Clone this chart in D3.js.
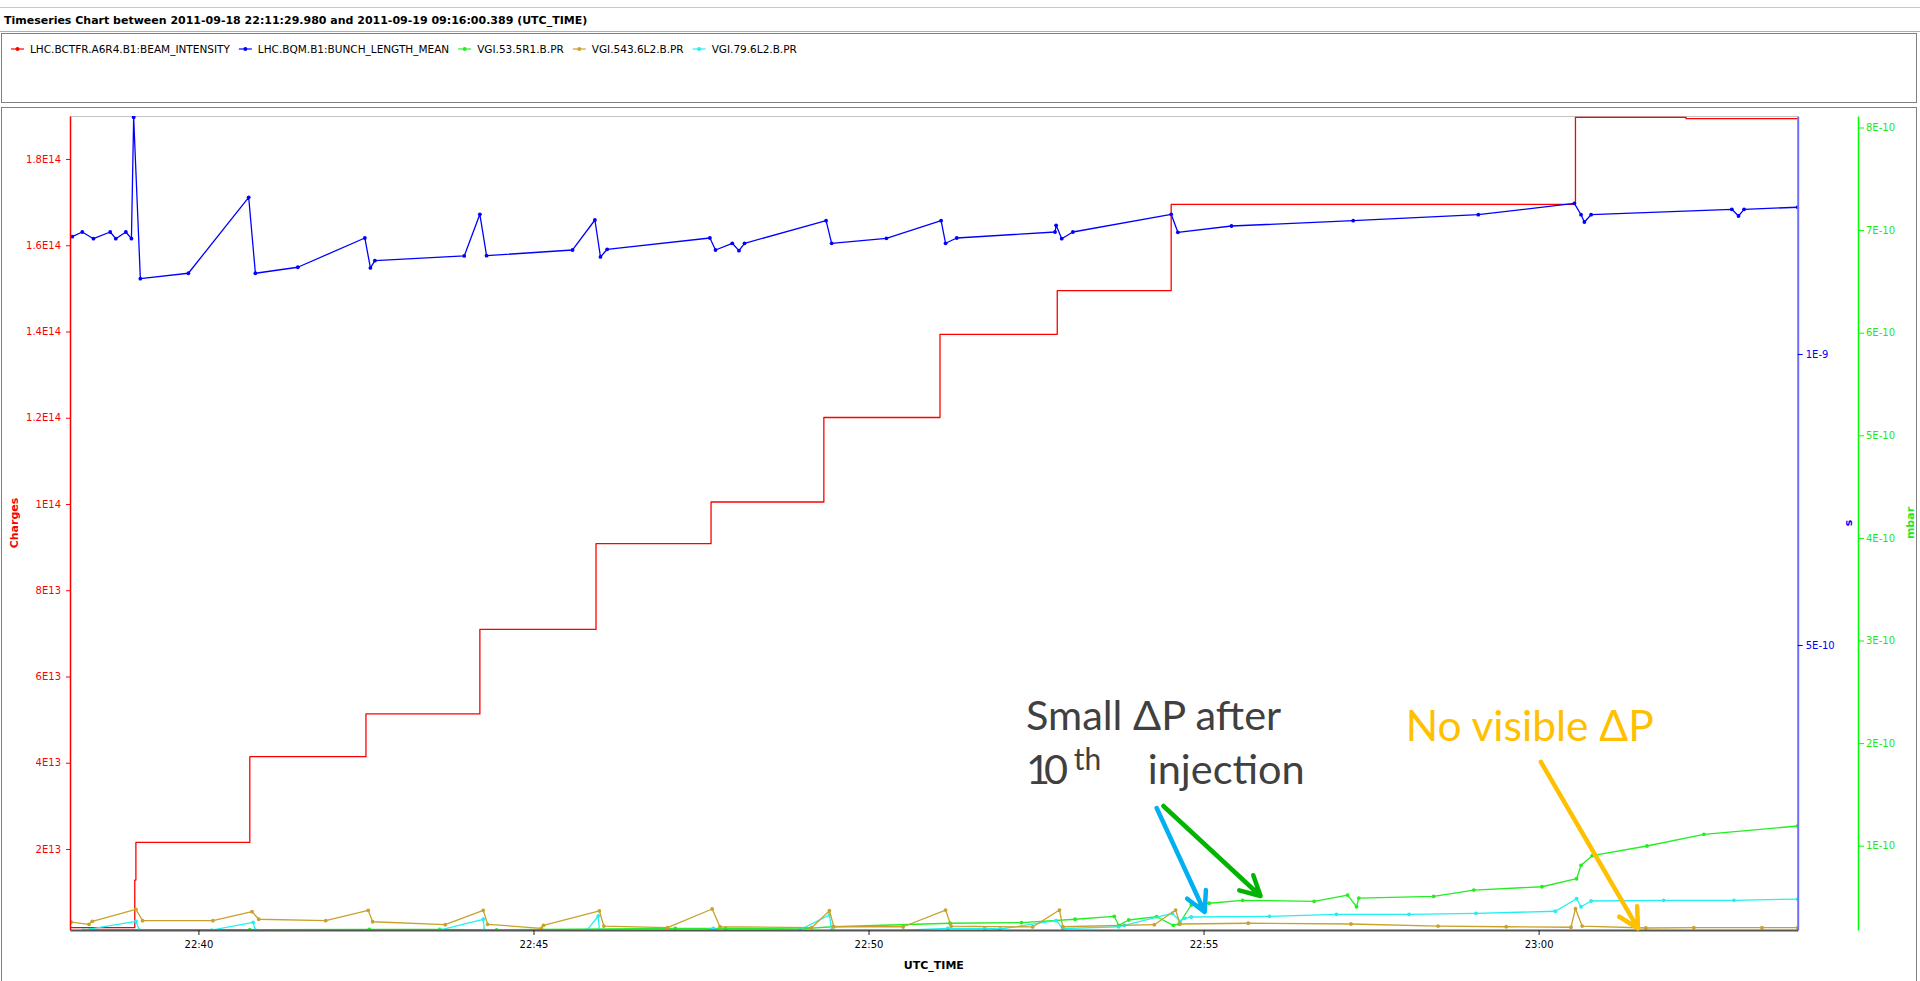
<!DOCTYPE html>
<html>
<head>
<meta charset="utf-8">
<title>Timeseries Chart</title>
<script src="https://cdn.jsdelivr.net/npm/d3@7/dist/d3.min.js"></script>
<style>
  html, body { margin: 0; padding: 0; background: #ffffff; overflow: hidden; }
  svg { display: block; }
  .ui { font-family: "DejaVu Sans", Verdana, sans-serif; }
  .note { font-family: Lato, "Open Sans", sans-serif; }
</style>
</head>
<body>
<svg id="chart" width="1920" height="981"></svg>
<script>
// ---------------- data (UTC times on 2011-09-18) ----------------
const seriesNames = [
  "LHC.BCTFR.A6R4.B1:BEAM_INTENSITY",
  "LHC.BQM.B1:BUNCH_LENGTH_MEAN",
  "VGI.53.5R1.B.PR",
  "VGI.543.6L2.B.PR",
  "VGI.79.6L2.B.PR"
];

// beam intensity, charges (stepwise)
const intensityTime = ["22:38:05","22:39:03","22:39:04","22:40:46","22:42:30","22:44:12","22:45:56",
  "22:47:39","22:49:20","22:51:04","22:52:49","22:54:31","23:00:33","23:02:12","23:03:53"];
const intensityCharges = [1.75e12,12.8e12,21.55e12,41.4e12,51.33e12,70.92e12,90.79e12,
  100.46e12,120.06e12,139.35e12,149.46e12,169.5e12,189.67e12,189.35e12,189.35e12];

// bunch length mean, seconds
const bunchTime = ["22:38:07","22:38:16","22:38:26","22:38:41","22:38:46","22:38:55","22:39:00","22:39:02",
  "22:39:08","22:39:51","22:40:45","22:40:51","22:41:29","22:42:29","22:42:34","22:42:38","22:43:58",
  "22:44:12","22:44:18","22:45:35","22:45:55","22:46:00","22:46:06","22:47:38","22:47:43","22:47:58",
  "22:48:04","22:48:09","22:49:22","22:49:27","22:50:16","22:51:05","22:51:09","22:51:19","22:52:47",
  "22:52:48","22:52:53","22:53:03","22:54:31","22:54:37","22:55:25","22:57:14","22:59:06","23:00:32",
  "23:00:38","23:00:41","23:00:47","23:02:53","23:02:59","23:03:04","23:03:52"];
const bunchSeconds = [1.2015e-9,1.2096e-9,1.1981e-9,1.2096e-9,1.1981e-9,1.2096e-9,1.1981e-9,1.4067e-9,
  1.1294e-9,1.1387e-9,1.2692e-9,1.1387e-9,1.1490e-9,1.1993e-9,1.1478e-9,1.1603e-9,1.1684e-9,
  1.2400e-9,1.1689e-9,1.1787e-9,1.2302e-9,1.1667e-9,1.1799e-9,1.1993e-9,1.1787e-9,1.1902e-9,
  1.1775e-9,1.1902e-9,1.2290e-9,1.1902e-9,1.1988e-9,1.2290e-9,1.1902e-9,1.1993e-9,1.2096e-9,
  1.2211e-9,1.1981e-9,1.2096e-9,1.2400e-9,1.2091e-9,1.2199e-9,1.2290e-9,1.2393e-9,1.2589e-9,
  1.2393e-9,1.2268e-9,1.2393e-9,1.2486e-9,1.2371e-9,1.2486e-9,1.2521e-9];

// vacuum gauge VGI.53.5R1.B.PR, mbar
const vgi53Time = ["22:38:23","22:40:46","22:42:33","22:43:36","22:44:27","22:47:07","22:47:52","22:48:59",
  "22:49:28","22:51:13","22:52:17","22:53:05","22:53:40","22:53:44","22:53:53","22:54:18","22:54:33",
  "22:54:38","22:54:49","22:55:05","22:55:35","22:56:39","22:57:09","22:57:17","22:57:19","22:58:26",
  "22:59:02","23:00:03","23:00:34","23:00:38","23:00:48","23:01:37","23:02:28","23:03:52"];
const vgi53Mbar = [1.81e-11,1.81e-11,1.85e-11,1.85e-11,1.80e-11,1.95e-11,1.95e-11,1.90e-11,
  2.10e-11,2.44e-11,2.50e-11,2.83e-11,3.12e-11,2.24e-11,2.76e-11,3.08e-11,2.24e-11,
  2.37e-11,4.22e-11,4.39e-11,4.68e-11,4.58e-11,5.19e-11,4.05e-11,4.90e-11,5.07e-11,
  5.68e-11,6.00e-11,6.78e-11,8.09e-11,9.03e-11,9.97e-11,11.11e-11,11.92e-11];

// vacuum gauge VGI.543.6L2.B.PR, mbar
const vgi543Time = ["22:38:06","22:38:22","22:38:25","22:39:04","22:39:10","22:40:13","22:40:48","22:40:54",
  "22:41:54","22:42:32","22:42:36","22:43:41","22:44:15","22:44:19","22:45:07","22:45:09","22:45:59",
  "22:46:03","22:47:00","22:47:40","22:47:47","22:49:09","22:49:25","22:49:29","22:50:31","22:51:09",
  "22:51:14","22:52:27","22:52:51","22:52:54","22:54:16","22:54:35","22:54:39","22:55:40","22:57:12",
  "22:58:30","22:59:31","23:00:29","23:00:33","23:00:39","23:01:36","23:02:19","23:03:20","23:03:52"];
const vgi543Mbar = [2.56e-11,2.34e-11,2.63e-11,3.80e-11,2.69e-11,2.69e-11,3.57e-11,2.83e-11,
  2.69e-11,3.70e-11,2.59e-11,2.30e-11,3.70e-11,2.34e-11,1.95e-11,2.24e-11,3.64e-11,
  2.17e-11,2.01e-11,3.83e-11,2.10e-11,2.01e-11,3.66e-11,2.10e-11,2.10e-11,3.73e-11,
  2.17e-11,2.08e-11,3.73e-11,2.10e-11,2.30e-11,3.73e-11,2.37e-11,2.44e-11,2.37e-11,
  2.17e-11,2.10e-11,2.05e-11,3.86e-11,2.17e-11,1.98e-11,2.01e-11,2.01e-11,2.01e-11];

// vacuum gauge VGI.79.6L2.B.PR, mbar
const vgi79Time = ["22:38:17","22:39:04","22:39:07","22:40:12","22:40:49","22:40:51","22:43:36","22:44:15",
  "22:44:16","22:45:48","22:45:58","22:45:59","22:47:38","22:47:41","22:47:43","22:48:58","22:49:25",
  "22:49:27","22:50:31","22:51:11","22:51:44","22:51:58","22:52:48","22:52:54","22:53:44","22:53:49",
  "22:54:32","22:54:39","22:54:43","22:54:49","22:55:59","22:56:59","22:58:04","22:59:04","23:00:15",
  "23:00:34","23:00:38","23:00:47","23:01:52","23:02:55","23:03:52"];
const vgi79Mbar = [1.78e-11,2.63e-11,1.78e-11,1.78e-11,2.53e-11,1.78e-11,1.78e-11,2.83e-11,
  1.78e-11,1.78e-11,3.15e-11,1.78e-11,1.78e-11,1.95e-11,1.78e-11,1.78e-11,3.25e-11,
  1.78e-11,1.78e-11,1.95e-11,1.95e-11,1.88e-11,2.69e-11,1.91e-11,2.10e-11,2.24e-11,
  3.41e-11,2.63e-11,2.92e-11,3.05e-11,3.12e-11,3.31e-11,3.31e-11,3.41e-11,3.61e-11,
  4.83e-11,4.05e-11,4.61e-11,4.68e-11,4.68e-11,4.80e-11];

// axis ticks
const timeTicks = ["22:40:00","22:45:00","22:50:00","22:55:00","23:00:00"];
const chargeTicks = [2e13,4e13,6e13,8e13,1e14,1.2e14,1.4e14,1.6e14,1.8e14];
const secondTicks = [5e-10,1e-9];
const mbarTicks = [1e-10,2e-10,3e-10,4e-10,5e-10,6e-10,7e-10,8e-10];

// visible ranges of the three value axes and the time axis
const timeRange = ["22:38:05","23:03:52"];
const chargeRange = [1.217e12,1.8997e14];
const secondRange = [1.03e-11,1.4089e-9];
const mbarRange = [1.784e-11,8.112e-10];

// ---------------- layout ----------------
const W = 1920, H = 981;
const plot = { left: 70, right: 1797.7, top: 116, bottom: 930 };
const mbarAxisX = 1858;
const colors = {
  intensity: "#ff0000",
  bunch: "#0000ff",
  vgi53: "#22ee22",
  vgi543: "#c9a22c",
  vgi79: "#22f0f0"
};

const parseT = d3.utcParse("%Y-%m-%d %H:%M:%S");
const T = s => parseT("2011-09-18 " + s);
const pts = (ts, vs) => d3.zip(ts, vs).map(([t, v]) => ({ t: T(t), v }));

const x = d3.scaleUtc().domain(timeRange.map(T)).range([plot.left, plot.right]);
const yCharge = d3.scaleLinear().domain(chargeRange).range([plot.bottom, plot.top]);
const ySec = d3.scaleLinear().domain(secondRange).range([plot.bottom, plot.top]);
const yMbar = d3.scaleLinear().domain(mbarRange).range([plot.bottom, plot.top]);

// "2E13", "1.2E14", "5E-10" style labels
function sci(v) {
  const e = Math.floor(Math.log10(v) + 1e-9);
  const m = Math.round(v / Math.pow(10, e) * 10) / 10;
  return String(m) + "E" + e;
}

const svg = d3.select("#chart");

// ---------------- window frames ----------------
svg.append("rect").attr("x", 0).attr("y", 0).attr("width", W).attr("height", H).attr("fill", "#ffffff");
svg.append("line").attr("x1", 0).attr("x2", W).attr("y1", 7.5).attr("y2", 7.5)
  .attr("stroke", "#c8c8c8");
svg.append("text").attr("class", "ui").attr("x", 4).attr("y", 24)
  .attr("font-size", 11).attr("font-weight", "bold").attr("fill", "#000")
  .text("Timeseries Chart between 2011-09-18 22:11:29.980 and 2011-09-19 09:16:00.389 (UTC_TIME)");
svg.append("line").attr("x1", 0).attr("x2", W).attr("y1", 31.5).attr("y2", 31.5)
  .attr("stroke", "#b0b0b0");

// legend panel
svg.append("rect").attr("x", 1.5).attr("y", 33.5).attr("width", 1915).attr("height", 69)
  .attr("fill", "#fff").attr("stroke", "#808080");
const legendColors = [colors.intensity, colors.bunch, colors.vgi53, colors.vgi543, colors.vgi79];
let lx = 11;
seriesNames.forEach((name, i) => {
  const g = svg.append("g");
  g.append("line").attr("x1", lx).attr("x2", lx + 13).attr("y1", 49).attr("y2", 49)
    .attr("stroke", legendColors[i]).attr("stroke-width", 1.2);
  g.append("circle").attr("cx", lx + 6.5).attr("cy", 49).attr("r", 2).attr("fill", legendColors[i]);
  const t = g.append("text").attr("class", "ui").attr("x", lx + 19).attr("y", 53)
    .attr("font-size", 10.5).attr("fill", "#000").text(name);
  lx += 19 + t.node().getComputedTextLength() + 9;
});

// chart panel
svg.append("rect").attr("x", 1.5).attr("y", 107.5).attr("width", 1915).attr("height", 880)
  .attr("fill", "#fff").attr("stroke", "#808080");

// plot outline (top)
svg.append("line").attr("x1", plot.left).attr("x2", plot.right).attr("y1", plot.top + 0.5).attr("y2", plot.top + 0.5)
  .attr("stroke", "#c4c4c4");

svg.append("clipPath").attr("id", "plotClip").append("rect")
  .attr("x", plot.left).attr("y", plot.top).attr("width", plot.right - plot.left).attr("height", plot.bottom - plot.top);

const layer = svg.append("g").attr("clip-path", "url(#plotClip)");

function drawSeries(data, yScale, color, withDots, curve) {
  const line = d3.line().x(d => x(d.t)).y(d => yScale(d.v)).curve(curve || d3.curveLinear);
  layer.append("path").datum(data).attr("d", line).attr("fill", "none")
    .attr("stroke", color).attr("stroke-width", 1.3).attr("stroke-linejoin", "round");
  if (withDots) {
    layer.append("g").selectAll("circle").data(data).join("circle")
      .attr("cx", d => x(d.t)).attr("cy", d => yScale(d.v)).attr("r", 1.9).attr("fill", color);
  }
}

drawSeries(pts(intensityTime, intensityCharges), yCharge, colors.intensity, false, d3.curveStepAfter);
drawSeries(pts(bunchTime, bunchSeconds), ySec, colors.bunch, true);
drawSeries(pts(vgi53Time, vgi53Mbar), yMbar, colors.vgi53, true);
drawSeries(pts(vgi79Time, vgi79Mbar), yMbar, colors.vgi79, true);
drawSeries(pts(vgi543Time, vgi543Mbar), yMbar, colors.vgi543, true);

// ---------------- axes ----------------
function styleAxis(g, lineColor, textColor, width) {
  g.select(".domain").attr("stroke", lineColor).attr("stroke-width", width);
  g.selectAll(".tick line").attr("stroke", lineColor);
  g.selectAll(".tick text").attr("fill", textColor).attr("font-family", "DejaVu Sans, Verdana, sans-serif")
    .attr("font-size", 10);
}

const axChg = svg.append("g").attr("transform", `translate(${plot.left},0)`)
  .call(d3.axisLeft(yCharge).tickValues(chargeTicks).tickFormat(sci).tickSize(4).tickPadding(5).tickSizeOuter(0));
styleAxis(axChg, "#ff0000", "#ff0000", 1.5);

const axSec = svg.append("g").attr("transform", `translate(${plot.right},0)`)
  .call(d3.axisRight(ySec).tickValues(secondTicks).tickFormat(sci).tickSize(5).tickPadding(3).tickSizeOuter(0));
styleAxis(axSec, "#7070ff", "#0000ff", 2);
axSec.selectAll(".tick line").attr("stroke", "#0000ff");

const axMbar = svg.append("g").attr("transform", `translate(${mbarAxisX},0)`)
  .call(d3.axisRight(yMbar).tickValues(mbarTicks).tickFormat(sci).tickSize(6).tickPadding(2).tickSizeOuter(0));
styleAxis(axMbar, "#00ff00", "#22e622", 1.5);

const axTime = svg.append("g").attr("transform", `translate(0,${plot.bottom})`)
  .call(d3.axisBottom(x).tickValues(timeTicks.map(T)).tickFormat(d3.utcFormat("%H:%M"))
    .tickSize(5).tickPadding(6).tickSizeOuter(0));
styleAxis(axTime, "#555555", "#000000", 2);
axTime.selectAll(".tick line").attr("stroke", "#222");

// axis titles
const midY = (plot.top + plot.bottom) / 2;
svg.append("text").attr("class", "ui").attr("transform", `translate(18,${midY}) rotate(-90)`)
  .attr("text-anchor", "middle").attr("font-size", 11).attr("font-weight", "bold")
  .attr("fill", "#ff0000").text("Charges");
svg.append("text").attr("class", "ui").attr("transform", `translate(1852,${midY}) rotate(-90)`)
  .attr("text-anchor", "middle").attr("font-size", 11).attr("font-weight", "bold")
  .attr("fill", "#0000ff").text("s");
svg.append("text").attr("class", "ui").attr("transform", `translate(1914,${midY}) rotate(-90)`)
  .attr("text-anchor", "middle").attr("font-size", 11).attr("font-weight", "bold")
  .attr("fill", "#22e622").text("mbar");
svg.append("text").attr("class", "ui").attr("x", (plot.left + plot.right) / 2).attr("y", 969)
  .attr("text-anchor", "middle").attr("font-size", 11).attr("font-weight", "bold")
  .attr("fill", "#000").text("UTC_TIME");

// ---------------- annotations (anchored in time / mbar) ----------------
const notes = svg.append("g");
const px = (t, v) => [x(T(t)), yMbar(v)];

function arrow(from, to, color) {
  const [x1, y1] = px(from[0], from[1]);
  const [x2, y2] = px(to[0], to[1]);
  const back = Math.atan2(y1 - y2, x1 - x2);
  const len = 22, spread = 28 * Math.PI / 180;
  const a1 = [x2 + len * Math.cos(back - spread), y2 + len * Math.sin(back - spread)];
  const a2 = [x2 + len * Math.cos(back + spread), y2 + len * Math.sin(back + spread)];
  notes.append("path")
    .attr("d", `M${x1},${y1}L${x2},${y2}M${a1[0]},${a1[1]}L${x2},${y2}L${a2[0]},${a2[1]}`)
    .attr("fill", "none").attr("stroke", color).attr("stroke-width", 4.5)
    .attr("stroke-linecap", "round").attr("stroke-linejoin", "round");
}

const [sx, sy] = px("22:52:21", 2.13e-10);
notes.append("text").attr("class", "note").attr("x", sx).attr("y", sy)
  .attr("font-size", 41.5).attr("fill", "#404040").text("Small \u0394P after");
const [tx, ty] = px("22:52:21", 1.603e-10);
const l2 = notes.append("text").attr("class", "note").attr("x", tx).attr("y", ty)
  .attr("font-size", 41.5).attr("fill", "#404040");
l2.append("tspan").attr("textLength", 42).text("10");
l2.append("tspan").attr("font-size", 30).attr("dy", -14).attr("dx", 12).text("th");
const [ix] = px("22:54:10", 1.603e-10);
notes.append("text").attr("class", "note").attr("x", ix).attr("y", ty)
  .attr("font-size", 41.5).attr("fill", "#404040").text("injection");

const [nx, ny] = px("22:58:01", 2.02e-10);
notes.append("text").attr("class", "note").attr("x", nx).attr("y", ny)
  .attr("font-size", 42.5).attr("fill", "#ffc000").text("No visible \u0394P");

arrow(["22:54:18", 1.367e-10], ["22:55:01", 0.354e-10], "#00b0f0");
arrow(["22:54:24", 1.387e-10], ["22:55:51", 0.51e-10], "#00b400");
arrow(["23:00:02", 1.817e-10], ["23:01:29", 0.195e-10], "#ffc000");
</script>
</body>
</html>
